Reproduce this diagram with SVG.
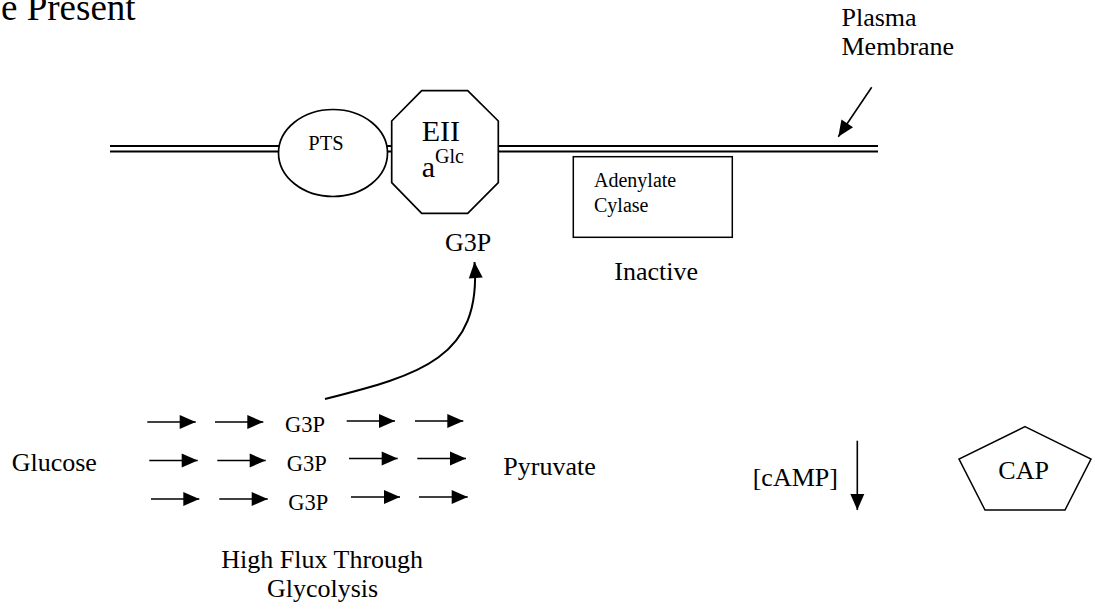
<svg xmlns="http://www.w3.org/2000/svg" width="1095" height="609" viewBox="0 0 1095 609">
<style>
text{font-family:"Liberation Serif","Times New Roman",serif;fill:#000}
.t26{font-size:26px}
.shape{fill:#fff;stroke:#000;stroke-width:1.7}
.mem{stroke:#000;stroke-width:2;fill:none}
.arr{stroke:#000;stroke-width:2;fill:none;marker-end:url(#ah)}
.arrt{stroke:#000;stroke-width:1.6;fill:none;marker-end:url(#ah)}
</style>
<defs>
<marker id="ah" markerUnits="userSpaceOnUse" markerWidth="16" markerHeight="14" refX="16" refY="7" orient="auto" overflow="visible">
<path d="M0,0 L16,7 L0,14 z" fill="#000"/>
</marker>
</defs>
<rect width="1095" height="609" fill="#fff"/>
<text x="1" y="19.5" style="font-size:37px">e Present</text>
<g id="membrane">
<line class="mem" x1="110" y1="146" x2="878" y2="146"/>
<line class="mem" x1="110" y1="151.5" x2="878" y2="151.5"/>
</g>
<g id="membrane-label">
<text class="t26" x="841.5" y="26">Plasma</text>
<text class="t26" x="841.5" y="55">Membrane</text>
</g>
<g id="pts">
<ellipse class="shape" cx="333" cy="153" rx="54.5" ry="43.5"/>
<text x="308.3" y="150" style="font-size:20.5px">PTS</text>
</g>
<g id="eiia">
<polygon class="shape" points="421.7,90.7 467.7,90.7 498.3,121 498.3,182.7 467.7,213.3 421.7,213.3 391.7,182.7 391.7,121"/>
<text x="421.7" y="141" style="font-size:30px">EII</text>
<text x="421.7" y="177.3" style="font-size:30px">a</text>
<text x="435" y="162.7" style="font-size:20px">Glc</text>
</g>
<g id="g3p-top">
<text class="t26" x="445" y="251">G3P</text>
</g>
<g id="adenylate">
<rect class="shape" x="573.3" y="156.7" width="159" height="80.6" style="stroke-width:1.5"/>
<text x="594" y="187.3" style="font-size:20px">Adenylate</text>
<text x="594" y="211.7" style="font-size:20px">Cylase</text>
</g>
<g id="inactive">
<text class="t26" x="614.3" y="280">Inactive</text>
</g>
<g id="glucose"><text class="t26" x="11.7" y="470.7">Glucose</text></g>
<g id="pyruvate"><text class="t26" x="503.3" y="475">Pyruvate</text></g>
<g id="g3p-rows">
<text x="285" y="432.3" style="font-size:22.5px">G3P</text>
<text x="286.7" y="471" style="font-size:22.5px">G3P</text>
<text x="288.3" y="510" style="font-size:22.5px">G3P</text>
</g>
<g id="flux-label">
<text class="t26" x="322.2" y="568.3" text-anchor="middle">High Flux Through</text>
<text class="t26" x="322.5" y="596.7" text-anchor="middle">Glycolysis</text>
</g>
<g id="camp">
<text class="t26" x="752.7" y="486">[cAMP]</text>
</g>
<g id="cap">
<polygon class="shape" points="1025,426.7 1091,459 1065,510 985,510 959,459" style="stroke-width:1.5"/>
<text class="t26" x="998.3" y="479.3">CAP</text>
</g>
<g id="connectors">
<line class="arrt" x1="871.7" y1="87.3" x2="838.3" y2="136.7"/>
<path class="arr" d="M325,399 C420,375 482,358 474.5,262"/>
<line class="arrt" x1="857.3" y1="440.7" x2="857.3" y2="510"/>
<line class="arrt" x1="147.3" y1="422" x2="195.7" y2="422"/>
<line class="arrt" x1="215" y1="422" x2="263.3" y2="422"/>
<line class="arrt" x1="346.7" y1="421" x2="395" y2="421"/>
<line class="arrt" x1="415" y1="421" x2="463.3" y2="421"/>
<line class="arrt" x1="149.3" y1="460.5" x2="197.7" y2="460.5"/>
<line class="arrt" x1="217.3" y1="460.5" x2="265.7" y2="460.5"/>
<line class="arrt" x1="349" y1="458.5" x2="397.7" y2="458.5"/>
<line class="arrt" x1="417.3" y1="458.5" x2="466" y2="458.5"/>
<line class="arrt" x1="151" y1="499" x2="199.3" y2="499"/>
<line class="arrt" x1="219.3" y1="499" x2="267.7" y2="499"/>
<line class="arrt" x1="351" y1="497" x2="400" y2="497"/>
<line class="arrt" x1="419" y1="497" x2="467.7" y2="497"/>
</g>
</svg>
